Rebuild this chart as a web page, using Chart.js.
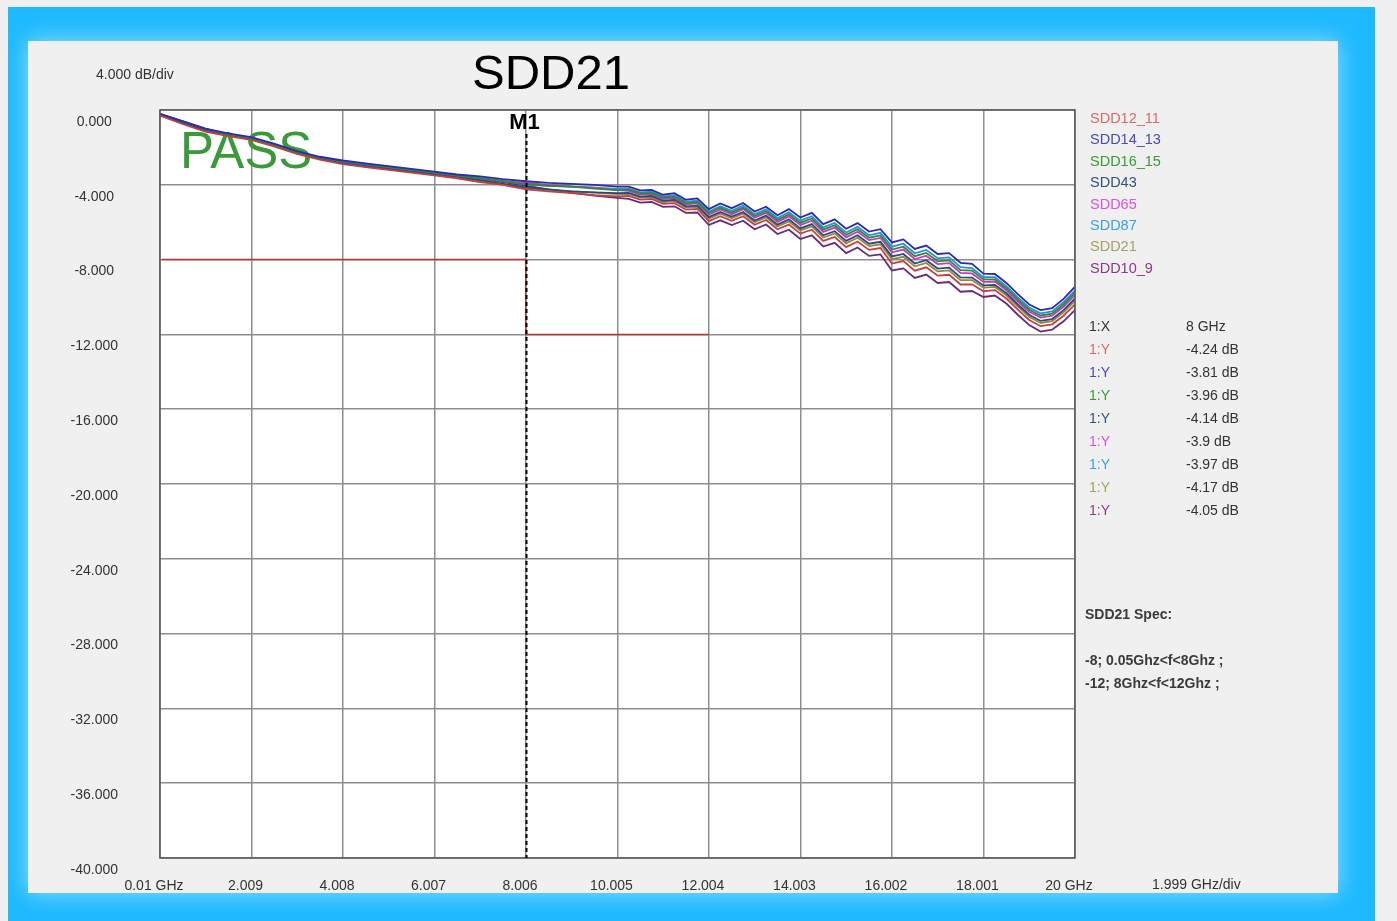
<!DOCTYPE html>
<html>
<head>
<meta charset="utf-8">
<title>SDD21</title>
<script src="https://cdn.jsdelivr.net/npm/chart.js@4.4.1/dist/chart.umd.min.js"></script>
<style>
  html, body { margin: 0; padding: 0; background: #f0f0f0; }
  #wrap { width: 1397px; height: 921px; }
</style>
</head>
<body>
<div id="wrap"><canvas id="sddChart" width="1397" height="921"></canvas></div>
<script>
// Frequency points (GHz)
const freqs = [0.01, 0.5, 1, 1.5, 2, 2.5, 3, 3.5, 4, 4.5, 5, 5.5, 6, 6.5, 7, 7.5, 8, 8.5, 9, 9.5, 10,
    10.25, 10.5, 10.75, 11, 11.25, 11.5, 11.75, 12, 12.25, 12.5, 12.75, 13, 13.25, 13.5, 13.75, 14,
    14.25, 14.5, 14.75, 15, 15.25, 15.5, 15.75, 16, 16.25, 16.5, 16.75, 17, 17.25, 17.5, 17.75, 18,
    18.25, 18.5, 18.75, 19, 19.25, 19.5, 19.75, 20];

// Insertion loss per pair (dB)
const sdd12_11 = [-0.3, -0.75, -1.15, -1.4, -1.6, -1.95, -2.35, -2.65, -2.9, -3.05, -3.2, -3.35, -3.5, -3.65, -3.85, -4.0, -4.24, -4.35, -4.45, -4.55, -4.62,
    -4.59, -4.79, -4.76, -5.02, -4.98, -5.33, -5.29, -5.94, -5.68, -5.93, -5.68, -6.14, -5.88, -6.38, -6.13, -6.61, -6.4, -7.0, -6.79, -7.33,
    -7.03, -7.48, -7.38, -8.21, -8.08, -8.59, -8.41, -8.86, -8.81, -9.33, -9.32, -9.69, -9.63, -10.08, -10.68, -11.23, -11.56, -11.46, -11.0, -10.39];
const sdd14_13 = [-0.2, -0.6, -1.0, -1.25, -1.45, -1.8, -2.2, -2.5, -2.7, -2.85, -3.0, -3.15, -3.3, -3.45, -3.55, -3.7, -3.81, -3.9, -3.95, -4.0, -4.1,
    -4.1, -4.3, -4.27, -4.53, -4.45, -4.8, -4.73, -5.3, -5.0, -5.25, -4.97, -5.43, -5.17, -5.63, -5.3, -5.75, -5.5, -6.1, -5.85, -6.35,
    -6.05, -6.5, -6.37, -7.08, -6.92, -7.43, -7.25, -7.7, -7.65, -8.17, -8.23, -8.75, -8.77, -9.25, -9.85, -10.4, -10.7, -10.6, -10.1, -9.45];
const sdd16_15 = [-0.2, -0.6, -1.0, -1.3, -1.5, -1.85, -2.25, -2.55, -2.75, -2.9, -3.05, -3.2, -3.35, -3.5, -3.65, -3.8, -3.96, -4.05, -4.1, -4.2, -4.28,
    -4.26, -4.46, -4.43, -4.69, -4.63, -4.98, -4.92, -5.51, -5.23, -5.48, -5.21, -5.67, -5.41, -5.88, -5.58, -6.04, -5.8, -6.4, -6.16, -6.68,
    -6.38, -6.83, -6.71, -7.46, -7.31, -7.82, -7.64, -8.09, -8.04, -8.56, -8.59, -9.06, -9.06, -9.53, -10.13, -10.68, -10.99, -10.89, -10.4, -9.76];
const sdd43 = [-0.25, -0.7, -1.1, -1.35, -1.55, -1.9, -2.3, -2.6, -2.85, -3.0, -3.15, -3.3, -3.45, -3.6, -3.75, -3.95, -4.14, -4.25, -4.35, -4.4, -4.45,
    -4.43, -4.63, -4.6, -4.86, -4.8, -5.15, -5.11, -5.73, -5.45, -5.7, -5.45, -5.91, -5.65, -6.13, -5.85, -6.33, -6.1, -6.7, -6.48, -7.0,
    -6.7, -7.15, -7.05, -7.83, -7.7, -8.21, -8.03, -8.48, -8.43, -8.95, -8.96, -9.38, -9.35, -9.8, -10.4, -10.95, -11.28, -11.18, -10.7, -10.08];
const sdd65 = [-0.2, -0.65, -1.05, -1.3, -1.5, -1.85, -2.25, -2.55, -2.75, -2.9, -3.05, -3.2, -3.35, -3.5, -3.65, -3.8, -3.9, -4.0, -4.1, -4.15, -4.28,
    -4.33, -4.53, -4.5, -4.76, -4.7, -5.05, -4.99, -5.6, -5.32, -5.57, -5.3, -5.76, -5.5, -5.98, -5.69, -6.15, -5.92, -6.52, -6.29, -6.81,
    -6.51, -6.96, -6.84, -7.61, -7.46, -7.97, -7.79, -8.24, -8.19, -8.71, -8.74, -9.19, -9.17, -9.64, -10.24, -10.79, -11.1, -11.0, -10.52, -9.89];
const sdd87 = [-0.25, -0.65, -1.05, -1.3, -1.5, -1.85, -2.25, -2.55, -2.8, -2.95, -3.1, -3.2, -3.35, -3.5, -3.65, -3.8, -3.97, -4.05, -4.1, -4.15, -4.22,
    -4.2, -4.4, -4.37, -4.63, -4.56, -4.91, -4.84, -5.43, -5.14, -5.39, -5.11, -5.57, -5.31, -5.78, -5.47, -5.92, -5.68, -6.28, -6.04, -6.55,
    -6.25, -6.7, -6.57, -7.31, -7.15, -7.66, -7.48, -7.93, -7.88, -8.4, -8.45, -8.94, -8.94, -9.42, -10.02, -10.57, -10.87, -10.77, -10.28, -9.64];
const sdd21 = [-0.3, -0.7, -1.1, -1.35, -1.55, -1.9, -2.3, -2.6, -2.85, -3.0, -3.15, -3.3, -3.45, -3.6, -3.8, -3.95, -4.17, -4.28, -4.35, -4.42, -4.5,
    -4.49, -4.69, -4.66, -4.92, -4.87, -5.22, -5.18, -5.81, -5.54, -5.79, -5.54, -6.0, -5.74, -6.23, -5.96, -6.44, -6.22, -6.82, -6.6, -7.13,
    -6.83, -7.28, -7.18, -7.98, -7.85, -8.36, -8.18, -8.63, -8.58, -9.1, -9.1, -9.5, -9.46, -9.91, -10.51, -11.06, -11.39, -11.29, -10.82, -10.2];
const sdd10_9 = [-0.25, -0.7, -1.1, -1.35, -1.55, -1.9, -2.3, -2.6, -2.8, -2.95, -3.1, -3.25, -3.4, -3.55, -3.7, -3.85, -4.05, -4.25, -4.42, -4.58, -4.7,
    -4.75, -4.95, -4.92, -5.18, -5.15, -5.5, -5.48, -6.15, -5.9, -6.15, -5.92, -6.38, -6.12, -6.63, -6.4, -6.9, -6.7, -7.3, -7.1, -7.65,
    -7.35, -7.8, -7.72, -8.58, -8.47, -8.98, -8.8, -9.25, -9.2, -9.72, -9.68, -10.0, -9.92, -10.35, -10.95, -11.5, -11.85, -11.75, -11.3, -10.7];

const seriesNames = ['SDD12_11', 'SDD14_13', 'SDD16_15', 'SDD43', 'SDD65', 'SDD87', 'SDD21', 'SDD10_9'];
const seriesValues = [sdd12_11, sdd14_13, sdd16_15, sdd43, sdd65, sdd87, sdd21, sdd10_9];
const lineColors = ['#c44040', '#2a2ab4', '#2e8b2e', '#2c4a7c', '#cc33cc', '#2a90d8', '#8f8a40', '#6a2a7a'];
const labelColors = ['#e06868', '#4848c0', '#3a9a3a', '#34507e', '#e050e0', '#3aa0e6', '#a8a060', '#8a3a8a'];

// Axis ticks
const freqTicks = [0.01, 2.009, 4.008, 6.007, 8.006, 10.005, 12.004, 14.003, 16.002, 18.001, 20];
const freqTickLabels = ['0.01 GHz', '2.009', '4.008', '6.007', '8.006', '10.005', '12.004', '14.003', '16.002', '18.001', '20 GHz'];
const dbTicks = [0, -4, -8, -12, -16, -20, -24, -28, -32, -36, -40];
const dbTickLabels = ['0.000', '-4.000', '-8.000', '-12.000', '-16.000', '-20.000', '-24.000', '-28.000', '-32.000', '-36.000', '-40.000'];

// Spec mask and marker
const specFreqs = [0.05, 8, 8, 12];
const specLimits = [-8, -8, -12, -12];
const markerFreq = 8;

const FONT = "'Liberation Sans', Arial, sans-serif";

const datasets = seriesNames.map(function (name, i) {
    return {
        label: name,
        data: freqs.map(function (f, j) { return { x: f, y: seriesValues[i][j] }; }),
        borderColor: lineColors[i],
        borderWidth: 1.8,
        pointRadius: 0,
        tension: 0,
        fill: false
    };
});
datasets.push({
    label: 'Spec',
    data: specFreqs.map(function (f, j) { return { x: f, y: specLimits[j] }; }),
    borderColor: '#b83434',
    borderWidth: 1.5,
    pointRadius: 0,
    tension: 0,
    fill: false
});

// Backgrounds, frame, annotations
const decor = {
    id: 'decor',
    beforeDraw: function (chart) {
        const ctx = chart.ctx;
        const a = chart.chartArea;
        ctx.save();
        ctx.fillStyle = '#f0f0f0';
        ctx.fillRect(0, 0, chart.width, chart.height);
        ctx.fillStyle = '#1eb9ff';
        ctx.fillRect(8, 7, 1367, 914);
        ctx.shadowColor = 'rgba(150,225,255,1)';
        ctx.shadowBlur = 22;
        ctx.fillStyle = '#f0f0f0';
        ctx.fillRect(28, 41, 1310, 852);
        ctx.shadowBlur = 0;
        ctx.fillStyle = '#ffffff';
        ctx.fillRect(a.left, a.top, a.right - a.left, a.bottom - a.top);
        ctx.restore();
    },
    beforeDatasetsDraw: function (chart) {
        const ctx = chart.ctx;
        ctx.save();
        ctx.font = '51px ' + FONT;
        ctx.fillStyle = '#3a9a3a';
        ctx.textBaseline = 'alphabetic';
        ctx.fillText('PASS', 180, 168);
        ctx.restore();
    },
    afterDraw: function (chart) {
        const ctx = chart.ctx;
        const a = chart.chartArea;
        const xs = chart.scales.x;
        ctx.save();

        // plot frame
        ctx.strokeStyle = '#5a5a5a';
        ctx.lineWidth = 1.5;
        ctx.strokeRect(a.left, a.top, a.right - a.left, a.bottom - a.top);

        // marker line
        const mx = Math.round(xs.getPixelForValue(markerFreq)) + 0.5;
        ctx.strokeStyle = '#000';
        ctx.lineWidth = 2;
        ctx.setLineDash([4, 3]);
        ctx.beginPath();
        ctx.moveTo(mx, a.top + 24);
        ctx.lineTo(mx, a.bottom);
        ctx.stroke();
        ctx.setLineDash([]);
        ctx.fillStyle = '#000';
        ctx.font = 'bold 22px ' + FONT;
        ctx.textAlign = 'center';
        ctx.textBaseline = 'middle';
        ctx.fillText('M1', mx - 2, a.top + 13);

        // title
        ctx.font = '49px ' + FONT;
        ctx.fillText('SDD21', 551, 75);

        ctx.font = '14px ' + FONT;
        ctx.fillStyle = '#333';
        ctx.textAlign = 'left';
        ctx.fillText('4.000 dB/div', 96, 75);
        ctx.fillText('1.999 GHz/div', 1152, 885);

        // legend
        ctx.font = '14.5px ' + FONT;
        seriesNames.forEach(function (name, i) {
            ctx.fillStyle = labelColors[i];
            ctx.fillText(name, 1090, 119 + i * 21.4);
        });

        // marker table
        const mi = freqs.indexOf(markerFreq);
        ctx.font = '14px ' + FONT;
        ctx.fillStyle = '#333';
        ctx.fillText('1:X', 1089, 327);
        ctx.fillText(markerFreq + ' GHz', 1186, 327);
        seriesValues.forEach(function (vals, i) {
            const y = 350 + i * 23;
            ctx.fillStyle = labelColors[i];
            ctx.fillText('1:Y', 1089, y);
            ctx.fillStyle = '#333';
            ctx.fillText(vals[mi] + ' dB', 1186, y);
        });

        // spec text
        ctx.font = 'bold 14px ' + FONT;
        ctx.fillStyle = '#3a3a3a';
        ctx.fillText('SDD21 Spec:', 1085, 615);
        ctx.fillText('-8; 0.05Ghz<f<8Ghz ;', 1085, 661);
        ctx.fillText('-12; 8Ghz<f<12Ghz ;', 1085, 684);
        ctx.restore();
    }
};

const sddCtx = document.getElementById('sddChart').getContext('2d');
const sddChart = new Chart(sddCtx, {
    type: 'line',
    data: { datasets: datasets },
    options: {
        responsive: false,
        animation: false,
        devicePixelRatio: 1,
        layout: {
            padding: { left: 28, top: 110, right: 322, bottom: 28 }
        },
        plugins: {
            legend: { display: false },
            tooltip: { enabled: false },
            title: { display: false }
        },
        scales: {
            x: {
                type: 'linear',
                min: 0.01,
                max: 20,
                afterBuildTicks: function (scale) {
                    scale.ticks = freqTicks.map(function (v) { return { value: v }; });
                },
                afterFit: function (scale) { scale.height = 35; },
                grid: { color: '#8e8e8e', lineWidth: 1.5, drawTicks: false },
                border: { display: false },
                ticks: {
                    autoSkip: false,
                    maxRotation: 0,
                    padding: 20,
                    labelOffset: -6,
                    color: '#333',
                    font: { family: FONT, size: 14 },
                    callback: function (v) { return freqTickLabels[freqTicks.indexOf(v)]; }
                }
            },
            y: {
                type: 'linear',
                min: -40,
                max: 0,
                afterBuildTicks: function (scale) {
                    scale.ticks = dbTicks.map(function (v) { return { value: v }; });
                },
                afterFit: function (scale) { scale.width = 132; },
                grid: { color: '#8e8e8e', lineWidth: 1.5, drawTicks: false },
                border: { display: false },
                ticks: {
                    crossAlign: 'center',
                    padding: 42,
                    labelOffset: 12,
                    color: '#333',
                    font: { family: FONT, size: 14 },
                    callback: function (v) { return dbTickLabels[dbTicks.indexOf(v)]; }
                }
            }
        }
    },
    plugins: [decor]
});
</script>
</body>
</html>
